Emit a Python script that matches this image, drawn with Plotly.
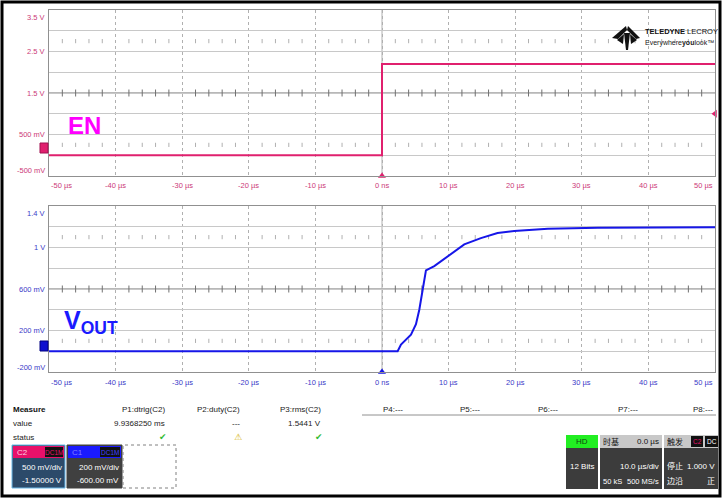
import plotly.graph_objects as go

W, H = 722, 500
FONT = "Liberation Sans Narrow, Arial Narrow, Liberation Sans, Noto Sans CJK SC, sans-serif"

# ---------------- data ----------------
t_en = [-50, 0, 0, 50]
v_en = [0.0, 0.0, 2.2, 2.2]

t_vout = [-50, 2.35, 2.85, 3.6, 4.35, 5.1, 5.6, 6.1, 6.6, 7.85, 9.85, 12.35,
          14.85, 17.35, 19.85, 24.9, 32.4, 50]
v_vout = [0.0, 0.0, 0.065, 0.11, 0.16, 0.26, 0.40, 0.59, 0.78, 0.82, 0.916, 1.03,
          1.09, 1.14, 1.16, 1.18, 1.19, 1.195]

x_ticks = [-50, -40, -30, -20, -10, 0, 10, 20, 30, 40, 50]
x_labels = ["-50 µs", "-40 µs", "-30 µs", "-20 µs", "-10 µs", "0 ns",
            "10 µs", "20 µs", "30 µs", "40 µs", "50 µs"]
y1_ticks = [3.5, 2.5, 1.5, 0.5, -0.5]
y1_labels = ["3.5 V", "2.5 V", "1.5 V", "500 mV", "-500 mV"]
y2_ticks = [1.4, 1.0, 0.6, 0.2, -0.2]
y2_labels = ["1.4 V", "1 V", "600 mV", "200 mV", "-200 mV"]

meas_headers = ["P1:dtrig(C2)", "P2:duty(C2)", "P3:rms(C2)", "P4:---", "P5:---",
                "P6:---", "P7:---", "P8:---"]
meas_values = ["9.9368250 ms", "---", "1.5441 V", "", "", "", "", ""]
meas_status = ["✔", "⚠", "✔", "", "", "", "", ""]

# ---------------- helpers ----------------
def px(x):
    return x / W

def py(y):
    return 1 - y / H

PINK = "#e0206e"
BLUE = "#1616e8"
PINK_LBL = "#cc3a78"
BLUE_LBL = "#3a3ac8"
TS = 7.5   # tick label size
MS = 8     # measure/info size

fig = go.Figure()

# grid ornaments (center line ticks and dot rows)
minor_x = [v for v in range(-48, 50, 2) if v % 10 != 0]
for xa, ya, yc, ydots in [("x", "y", 1.5, [2.75, 0.25]), ("x2", "y2", 0.6, [1.1, 0.1])]:
    fig.add_trace(go.Scatter(x=minor_x, y=[yc] * len(minor_x), mode="markers",
                             marker=dict(symbol="line-ns", size=5, line=dict(width=1, color="#707070")),
                             xaxis=xa, yaxis=ya, hoverinfo="skip", showlegend=False))
    for yd in ydots:
        fig.add_trace(go.Scatter(x=minor_x, y=[yd] * len(minor_x), mode="markers",
                                 marker=dict(symbol="line-ns", size=3, line=dict(width=1, color="#b0b0b0")),
                                 xaxis=xa, yaxis=ya, hoverinfo="skip", showlegend=False))

# traces
fig.add_trace(go.Scatter(x=t_en, y=v_en, mode="lines", line=dict(color=PINK, width=2),
                         xaxis="x", yaxis="y", showlegend=False))
fig.add_trace(go.Scatter(x=t_vout, y=v_vout, mode="lines", line=dict(color=BLUE, width=2),
                         xaxis="x2", yaxis="y2", showlegend=False))

# trigger markers
fig.add_trace(go.Scatter(x=[0], y=[-0.5], mode="markers", cliponaxis=False,
                         marker=dict(symbol="triangle-up", size=7, color=PINK),
                         xaxis="x", yaxis="y", showlegend=False))
fig.add_trace(go.Scatter(x=[0], y=[-0.2], mode="markers", cliponaxis=False,
                         marker=dict(symbol="triangle-up", size=7, color=BLUE),
                         xaxis="x2", yaxis="y2", showlegend=False))
fig.add_trace(go.Scatter(x=[50], y=[1.0], mode="markers", cliponaxis=False,
                         marker=dict(symbol="triangle-left", size=7, color=PINK),
                         xaxis="x", yaxis="y", showlegend=False))

axis_common = dict(range=[-50, 50], showgrid=True, gridcolor="#b0b0b0", griddash="dot",
                   tick0=0, dtick=10, showticklabels=False, zeroline=False,
                   showline=True, mirror=True, linecolor="#909090", ticks="")
fig.update_layout(
    width=W, height=H, margin=dict(l=0, r=0, t=0, b=0),
    paper_bgcolor="white", plot_bgcolor="white",
    font=dict(family=FONT, size=MS, color="#222"),
    xaxis=dict(domain=[px(49), px(715)], anchor="y", **axis_common),
    xaxis2=dict(domain=[px(49), px(715)], anchor="y2", **axis_common),
    yaxis=dict(domain=[py(176), py(10)], anchor="x", range=[-0.5, 3.5], tick0=0, dtick=0.5,
               showgrid=True, gridcolor="#c8c8c8", showticklabels=False, zeroline=False,
               showline=True, mirror=True, linecolor="#909090"),
    yaxis2=dict(domain=[py(372), py(206)], anchor="x2", range=[-0.2, 1.4], tick0=0, dtick=0.2,
                showgrid=True, gridcolor="#c8c8c8", showticklabels=False, zeroline=False,
                showline=True, mirror=True, linecolor="#909090"),
    showlegend=False,
)

shapes = []
# center lines
shapes.append(dict(type="line", xref="x", yref="y", x0=-50, x1=50, y0=1.5, y1=1.5, line=dict(color="#707070", width=1), layer="below"))
shapes.append(dict(type="line", xref="x2", yref="y2", x0=-50, x1=50, y0=0.6, y1=0.6, line=dict(color="#707070", width=1), layer="below"))
shapes.append(dict(type="line", xref="x", yref="y", x0=0, x1=0, y0=-0.5, y1=3.5, line=dict(color="#b0b0b0", width=1), layer="below"))
shapes.append(dict(type="line", xref="x2", yref="y2", x0=0, x1=0, y0=-0.2, y1=1.4, line=dict(color="#b0b0b0", width=1), layer="below"))

def rect(x0, y0, x1, y1, fill, line=None, lw=0, dash=None):
    d = dict(type="rect", xref="paper", yref="paper", x0=px(x0), x1=px(x1), y0=py(y1), y1=py(y0),
             fillcolor=fill, line=dict(width=lw, color=line or fill))
    if dash:
        d["line"]["dash"] = dash
    shapes.append(d)

# outer frame
shapes.append(dict(type="rect", xref="paper", yref="paper", x0=px(2), x1=px(720), y0=py(496), y1=py(2),
                   line=dict(color="black", width=3)))
# channel ground markers
rect(40, 143, 48, 153, PINK, "#a01050", 1)
rect(40, 341, 48, 351, "#1010d0", "#000080", 1)

# header separator line
shapes.append(dict(type="line", xref="paper", yref="paper", x0=px(362), x1=px(716), y0=py(415), y1=py(415),
                   line=dict(color="#909090", width=1)))

# channel boxes
rect(12, 445, 65, 488, "#2c4a6a", "#6ab8e8", 1)
rect(13, 446, 64, 458, "#e8106a")
rect(45, 447, 63, 457, "#111")
rect(67, 445, 122, 488, "#404040", "#404040", 1)
rect(68, 446, 121, 458, "#1a1aff")
rect(100, 447, 120, 457, "#111")
rect(123, 445, 176, 488, "rgba(0,0,0,0)", "#808080", 1, "dot")

# right boxes
rect(566, 435, 598, 489, "#3c3c3c")
rect(566, 435, 598, 448, "#22ee22")
rect(600, 435, 662, 489, "#3c3c3c")
rect(600, 435, 662, 448, "#c8c8c8")
rect(664, 435, 718, 489, "#3c3c3c")
rect(664, 435, 718, 448, "#c8c8c8")
rect(691, 436, 703, 447, "#111")
rect(705, 436, 718, 447, "#111")

# logo mark
logo_paths = [
    [(612, 38), (626, 26), (627, 30), (618, 39)],
    [(640, 38), (628, 26), (627, 30), (636, 39)],
    [(624, 33), (630, 33), (628, 50), (626, 50)],
    [(617, 40), (624, 34), (623, 44)],
    [(637, 40), (630, 34), (631, 44)],
]
for poly in logo_paths:
    path = "M " + " L ".join(f"{px(a):.5f},{py(b):.5f}" for a, b in poly) + " Z"
    shapes.append(dict(type="path", xref="paper", yref="paper", path=path, fillcolor="#111", line=dict(width=0)))

fig.update_layout(shapes=shapes)

ann = []
def text(x, y, s, size=MS, color="#222", xanchor="left", yanchor="middle", xref="paper", yref="paper", **kw):
    fam = kw.pop("family", FONT)
    ann.append(dict(x=x, y=y, text=s, showarrow=False, xref=xref, yref=yref, xanchor=xanchor, yanchor=yanchor,
                    font=dict(size=size, color=color, family=fam), **kw))

# x tick labels
for i, (v, lab) in enumerate(zip(x_ticks, x_labels)):
    xa = "left" if i == 0 else ("right" if i == len(x_ticks) - 1 else "center")
    text(v, py(185), lab, TS, PINK_LBL, xanchor=xa, xref="x")
    text(v, py(382), lab, TS, BLUE_LBL, xanchor=xa, xref="x2")

# y tick labels
for i, (v, lab) in enumerate(zip(y1_ticks, y1_labels)):
    ys = -7 if i == 0 else (6 if i == len(y1_ticks) - 1 else 0)
    text(px(47), v, lab, TS, PINK_LBL, xanchor="right", yref="y", yshift=ys)
for i, (v, lab) in enumerate(zip(y2_ticks, y2_labels)):
    ys = -8 if i == 0 else (5 if i == len(y2_ticks) - 1 else 0)
    text(px(47), v, lab, TS, BLUE_LBL, xanchor="right", yref="y2", yshift=ys)

# channel labels
text(px(66), py(125), "<b>EN</b>", 24, "#ff00ff", family="Liberation Sans, Arial, sans-serif")
text(px(62), py(322), "<b>V<sub>OUT</sub></b>", 25, "#1a1aff", family="Liberation Sans, Arial, sans-serif")

# logo text
text(px(643), py(31), "<b>TELEDYNE</b> LECROY", 7.5, "#111")
text(px(643), py(43), "Everywhere<b>you</b>look™", 7, "#222")

# measure table
text(px(11), py(409), "<b>Measure</b>", MS, "#111")
text(px(11), py(423), "value", MS, "#222")
text(px(11), py(437), "status", MS, "#222")
col_right = [167, 242, 323, 405, 482, 560, 640, 715]
for xr, hd, vv, st in zip(col_right, meas_headers, meas_values, meas_status):
    text(px(xr), py(409), hd, MS, "#222", xanchor="right")
    if vv:
        text(px(xr), py(423), vv, MS, "#222", xanchor="right")
    if st:
        text(px(xr - 4), py(437), st, 9, "#33bb33" if st == "✔" else "#d4b000", xanchor="center",
             family="DejaVu Sans, sans-serif")

# channel boxes text
text(px(15), py(452), "C2", MS, "#ffd0e0")
text(px(54), py(452), "DC1M", 6.5, "#e8106a", xanchor="center")
text(px(64), py(467), "500 mV/div", MS, "white", xanchor="right")
text(px(64), py(480), "-1.50000 V", MS, "white", xanchor="right")
text(px(70), py(452), "C1", MS, "#8080ff")
text(px(110), py(452), "DC1M", 6.5, "#4040ff", xanchor="center")
text(px(121), py(467), "200 mV/div", MS, "white", xanchor="right")
text(px(121), py(480), "-600.00 mV", MS, "white", xanchor="right")

# right boxes text
text(px(582), py(441.5), "HD", MS, "#114411", xanchor="center")
text(px(582), py(466), "12 Bits", MS, "white", xanchor="center")
text(px(601), py(441.5), "时基", MS, "#111")
text(px(661), py(441.5), "0.0 µs", MS, "#111", xanchor="right")
text(px(661), py(466), "10.0 µs/div", MS, "white", xanchor="right")
text(px(601), py(481), "50 kS", 7.5, "white")
text(px(661), py(481), "500 MS/s", 7.5, "white", xanchor="right")
text(px(665), py(441.5), "触发", MS, "#111")
text(px(697), py(441.5), "C2", 6.5, "#e8106a", xanchor="center")
text(px(711.5), py(441.5), "DC", 6.5, "white", xanchor="center")
text(px(665), py(466), "停止", MS, "white")
text(px(717), py(466), "1.000 V", MS, "white", xanchor="right")
text(px(665), py(481), "边沿", MS, "white")
text(px(717), py(481), "正", MS, "white", xanchor="right")

fig.update_layout(annotations=ann)
fig.write_html("out.html", config={"displayModeBar": False},
               post_script="document.body.style.margin='0';document.body.style.overflow='hidden';")
